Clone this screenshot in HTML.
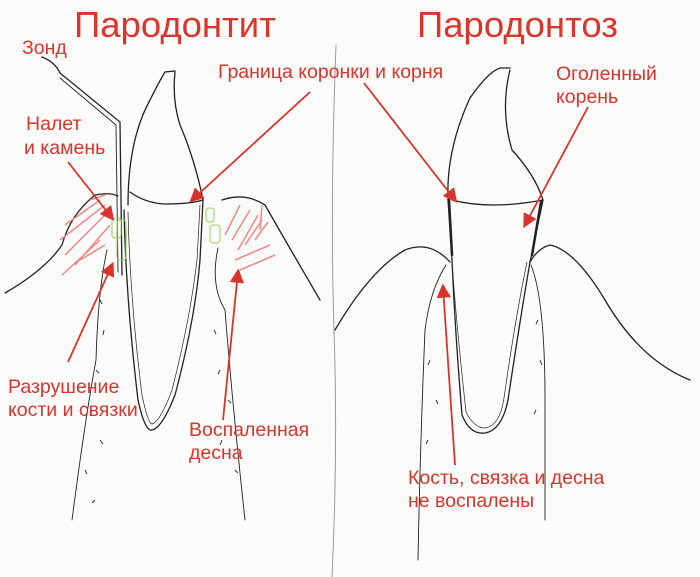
<!DOCTYPE html>
<html><head><meta charset="utf-8"><style>
html,body{margin:0;padding:0;background:#fbfbfa;}
svg{display:block}
text{font-family:"Liberation Sans",sans-serif;fill:#d8352c}
</style></head><body>
<svg width="700" height="577" viewBox="0 0 700 577" xmlns="http://www.w3.org/2000/svg">
<rect width="700" height="577" fill="#fbfbfa"/>
<g fill="none" stroke="#222" stroke-width="1.3" stroke-linecap="round">
<path d="M336 45 Q330 200 334 330 Q338 450 332 577" stroke="#999" stroke-width="1"/>
<path d="M128 205 Q128 140 150 100 Q160 80 165 72 L175 71"/>
<path d="M175 72 Q172 100 180 125 Q195 160 203 200"/>
<path d="M130 192 Q145 203 165 204 Q190 204 203 200"/>
<path d="M124 210 Q126 300 138 400 Q145 432 152 430 Q162 428 175 395 Q195 320 200 260 L203 200"/>
<path d="M128 212 Q130 300 142 395 Q148 424 152 424 Q160 422 172 390 Q190 320 197 260 L200 205" stroke-width="0.7"/>
<path d="M42 57 Q55 62 60 73 L120 122 L122 275"/>
<path d="M60 78 L116 125 L118 272" stroke-width="0.9"/>
<path d="M5 293 Q45 270 62 245 Q70 215 95 195 Q110 192 118 196"/>
<path d="M107 250 Q98 290 96 360 Q85 420 72 520" stroke-width="0.9"/>
<path d="M222 200 Q245 192 265 205 Q285 240 320 300"/>
<path d="M218 248 Q210 285 225 310 Q232 400 245 520" stroke-width="0.9"/>
<path d="M448 200 Q446 150 470 98 Q488 72 500 68 L510 68"/>
<path d="M510 70 Q500 110 512 150 Q535 175 543 200"/>
<path d="M452 200 Q490 210 543 200"/>
<path d="M448 200 L452 260 Q455 330 462 415 Q470 435 485 433 Q502 430 508 400 Q520 320 530 262 L543 200"/>
<path d="M452 263 Q457 330 466 412 Q474 428 485 428 Q500 426 504 398 Q515 320 527 262" stroke-width="0.7"/>
<path d="M449 200 L452 255 M541 202 L532 255" stroke-width="2.5"/>
<path d="M335 330 Q370 270 405 250 Q430 240 450 262"/>
<path d="M530 262 Q538 248 550 245 Q575 250 605 300 Q640 360 690 380"/>
<path d="M446 265 Q430 290 425 330 Q420 450 418 560" stroke-width="0.9"/>
<path d="M531 265 Q545 300 545 400 L545 520" stroke-width="0.9"/>
</g>
<g stroke="#333" stroke-width="1" fill="none">
<path d="M100 300 l2 4 M104 330 l-1 5 M96 370 l3 3 M92 410 l-2 5 M100 440 l3 4 M85 470 l2 4 M95 500 l-3 3 M214 330 l2 4 M220 370 l-2 4 M228 400 l3 3 M222 440 l-2 5 M235 470 l3 3 M430 360 l-2 5 M436 400 l2 4 M428 440 l-2 4 M538 320 l-2 4 M540 360 l2 5 M536 410 l-2 4"/>
</g>
<g stroke="#e88" stroke-width="1.5" fill="none">
<path d="M65 225 L100 200 M60 240 L105 205 M65 255 L108 212 M75 265 L110 225 M62 275 L100 240 M80 260 L105 245 M90 200 L105 195"/>
<path d="M225 235 L240 205 M232 240 L250 210 M238 250 L258 215 M245 245 L262 220 M255 240 L268 222 M235 260 L270 245 M240 270 L275 255 M260 230 L262 205"/>
</g>
<g stroke="#9c6" stroke-width="1" fill="none">
<rect x="112" y="218" width="9" height="20" rx="3"/><rect x="117" y="220" width="9" height="40" rx="3"/>
<rect x="206" y="208" width="8" height="14" rx="3"/><rect x="210" y="225" width="10" height="18" rx="3"/>
</g>
<defs><marker id="a" markerWidth="8" markerHeight="8" refX="6" refY="4" orient="auto"><path d="M0 0 L8 4 L0 8 Z" fill="#d8352c"/></marker></defs>
<g stroke="#d8352c" stroke-width="1.8" fill="none" marker-end="url(#a)">
<path d="M310 92 L192 200"/>
<path d="M364 83 L455 200"/>
<path d="M588 107 L525 225"/>
<path d="M68 162 L112 218"/>
<path d="M68 362 L112 265"/>
<path d="M223 420 L238 272"/>
<path d="M455 465 L443 287"/>
</g>
<g font-size="36.5"><text x="74" y="37">Пародонтит</text><text x="417" y="37">Пародонтоз</text></g>
<g font-size="19.5">
<text x="22" y="54">Зонд</text>
<text x="26" y="130">Налет</text><text x="24" y="154">и камень</text>
<text x="218" y="78">Граница коронки и корня</text>
<text x="556" y="80">Оголенный</text><text x="556" y="103">корень</text>
<text x="8" y="393">Разрушение</text><text x="8" y="416">кости и связки</text>
<text x="189" y="436">Воспаленная</text><text x="189" y="459">десна</text>
<text x="408" y="484">Кость, связка и десна</text><text x="408" y="507">не воспалены</text>
</g>
</svg>
</body></html>
